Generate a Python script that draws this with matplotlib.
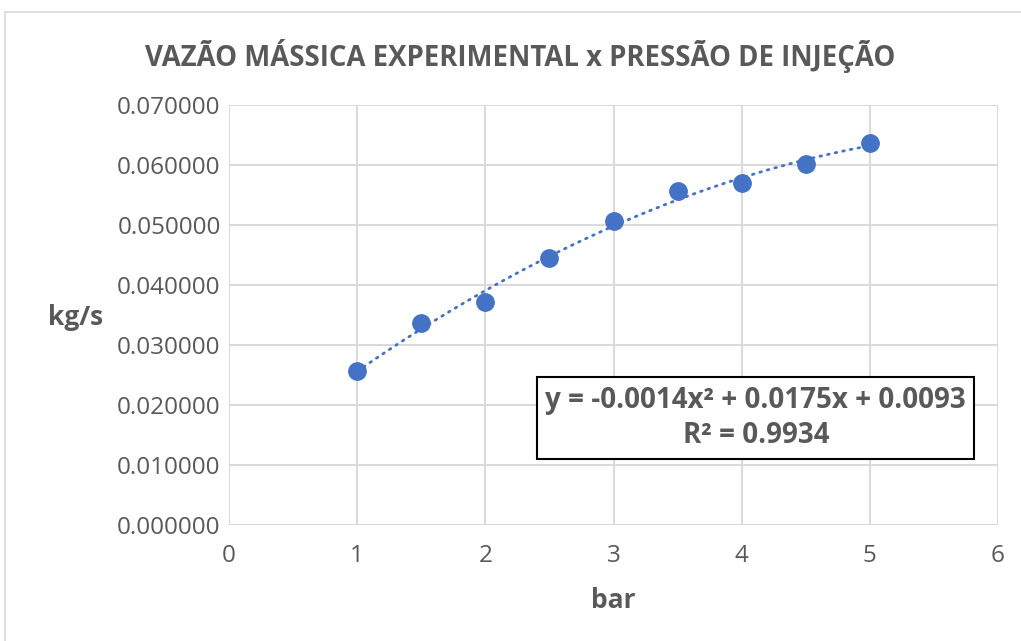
import numpy as np
import matplotlib
matplotlib.use('Agg')
import matplotlib.pyplot as plt
from matplotlib.patches import Rectangle

# Injection pressure [bar] and measured mass flow [kg/s]
pressao = [1.0, 1.5, 2.0, 2.5, 3.0, 3.5, 4.0, 4.5, 5.0]
vazao = [0.02567, 0.03372, 0.03712, 0.04450, 0.05067, 0.05567, 0.05705, 0.06012, 0.06362]

xticks = [0, 1, 2, 3, 4, 5, 6]
yticks = [0.0, 0.01, 0.02, 0.03, 0.04, 0.05, 0.06, 0.07]

titulo = 'VAZÃO MÁSSICA EXPERIMENTAL x PRESSÃO DE INJEÇÃO'
eq_texto = 'y = -0.0014x² + 0.0175x + 0.0093\nR² = 0.9934'

AZUL = '#4472C4'
CINZA = '#595959'
GRADE = '#D9D9D9'

plt.rcParams['font.family'] = ['Open Sans', 'DejaVu Sans']

fig = plt.figure(figsize=(10.21, 6.41), dpi=100)
# light frame of the chart area
fig.patches.append(Rectangle((5/1021, -0.1), 1.2, (641-12)/641 + 0.1, transform=fig.transFigure,
                             fill=False, edgecolor='#D9D9D9', lw=1.2))

ax = fig.add_axes([229/1021, 116/641, 769/1021, 420/641])

# second-order polynomial trendline fitted to the data
coef = np.polyfit(pressao, vazao, 2)
xs = np.linspace(min(pressao), max(pressao), 200)
ax.plot(xs, np.polyval(coef, xs), color=AZUL, lw=2.0, ls=(0, (0.6, 2.2)),
        dash_capstyle='round', zorder=3)

ax.plot(pressao, vazao, 'o', color=AZUL, ms=12.5, mec=AZUL, zorder=4)

ax.set_xlim(0, 6)
ax.set_ylim(0, 0.07)
ax.set_xticks(xticks)
ax.set_yticks(yticks)
ax.set_yticklabels(['%.6f' % v for v in yticks])
ax.grid(True, color=GRADE, lw=1.4)
ax.set_axisbelow(True)
for s in ax.spines.values():
    s.set_visible(False)
ax.tick_params(length=0, labelcolor=CINZA, labelsize=17.5)
ax.tick_params(axis='x', pad=14)
ax.tick_params(axis='y', pad=6)

ax.set_xlabel('bar', fontsize=19, fontweight='bold', color=CINZA, labelpad=13)
ax.set_ylabel('kg/s', fontsize=19, fontweight='bold', color=CINZA, rotation=0,
              ha='center', va='center')
ax.yaxis.set_label_coords(-0.2, 0.493)

fig.text(0.509, 0.913, titulo, ha='center', va='center', fontsize=19.8,
         fontweight='bold', color=CINZA)

ax.text(0.685, 0.255, eq_texto, transform=ax.transAxes, ha='center', va='center',
        fontsize=20, fontweight='bold', color=CINZA, linespacing=1.3, zorder=5,
        bbox=dict(boxstyle='square,pad=0.3', facecolor='white', edgecolor='black', lw=1.5))

fig.savefig('out.png', dpi=100)
